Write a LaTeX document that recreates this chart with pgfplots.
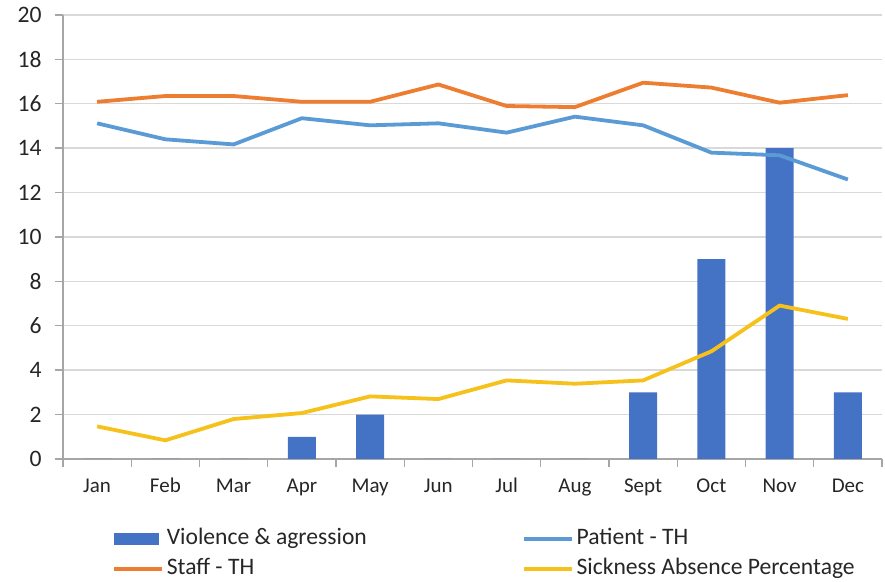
\documentclass[border=0pt]{standalone}
\usepackage{fontspec}
\setmainfont{Carlito}
\usepackage{pgfplots}
\pgfplotsset{compat=1.18}

\definecolor{barblue}{HTML}{4472C4}
\definecolor{patientblue}{HTML}{5B9BD5}
\definecolor{stafforange}{HTML}{ED7D31}
\definecolor{sickyellow}{HTML}{F5C11A}
\definecolor{gridgray}{HTML}{D9D9D9}
\definecolor{axisgray}{HTML}{A6A6A6}
\definecolor{txt}{HTML}{262626}

\begin{document}
\begin{tikzpicture}
\useasboundingbox (0,0) rectangle (442.5pt,291pt);
\begin{axis}[
  at={(31.5pt,61.5pt)}, anchor=south west,
  scale only axis,
  width=409.5pt, height=222pt,
  xmin=-0.5, xmax=11.5,
  ymin=0, ymax=20,
  ytick={0,2,...,20},
  xtick={0,...,11},
  xticklabels={Jan,Feb,Mar,Apr,May,Jun,Jul,Aug,Sept,Oct,Nov,Dec},
  minor xtick={-0.5,0.5,...,11.5},
  axis lines=left,
  axis line style={-, draw=axisgray, line width=0.7pt},
  tick align=outside,
  major tick length=4pt,
  minor tick length=4pt,
  major x tick style={draw=none},
  minor x tick style={draw=axisgray, line width=0.7pt},
  ytick style={draw=axisgray, line width=0.7pt},
  ymajorgrids,
  grid style={draw=gridgray, line width=0.7pt},
  /pgf/number format/assume math mode=true,
  yticklabel style={font=\fontsize{11.8}{13}\selectfont, text=txt, anchor=east, inner sep=0pt, xshift=-6.5pt},
  xticklabel style={font=\fontsize{10.5}{12}\selectfont, text=txt, anchor=base, inner sep=0pt, yshift=-13pt},
  legend columns=2,
  legend cell align=left,
  legend image code/.code={\draw[#1] (0pt,0pt) -- (24pt,0pt);},
  legend style={
    at={(axis description cs:0,0)}, anchor=north west,
    xshift=24.5pt, yshift=-34pt,
    draw=none, fill=none, inner sep=0pt, outer sep=0pt,
    font=\fontsize{11.8}{14}\selectfont, text=txt,
    row sep=3pt,
    nodes={inner sep=0pt, text height=9pt, text depth=3pt},
    /tikz/every odd column/.append style={column sep=1.5pt},
    /tikz/every even column/.append style={column sep=0pt},
  },
]
% monthly violence & aggression incidents
\addplot[ybar, bar width=14pt, fill=barblue, draw=none,
  legend image code/.code={\fill[barblue] (0pt,-3pt) rectangle (22.5pt,3pt);}]
  coordinates {(0,0) (1,0) (2,0) (3,1) (4,2) (5,0) (6,0) (7,0) (8,3) (9,9) (10,14) (11,3)};
\addlegendentry{\makebox[177.5pt][l]{Violence \& agression}}

\addplot[patientblue, line width=1.9pt]
  coordinates {(0,15.12) (1,14.40) (2,14.17) (3,15.35) (4,15.03) (5,15.12) (6,14.70) (7,15.42) (8,15.03) (9,13.80) (10,13.68) (11,12.59)};
\addlegendentry{Patient - TH}

\addplot[stafforange, line width=1.9pt]
  coordinates {(0,16.09) (1,16.35) (2,16.35) (3,16.09) (4,16.09) (5,16.87) (6,15.90) (7,15.85) (8,16.95) (9,16.73) (10,16.05) (11,16.39)};
\addlegendentry{\makebox[177.5pt][l]{Staff - TH}}

\addplot[sickyellow, line width=1.9pt]
  coordinates {(0,1.47) (1,0.84) (2,1.80) (3,2.07) (4,2.82) (5,2.70) (6,3.54) (7,3.39) (8,3.54) (9,4.85) (10,6.91) (11,6.31)};
\addlegendentry{Sickness Absence Percentage}
\end{axis}
\end{tikzpicture}
\end{document}
